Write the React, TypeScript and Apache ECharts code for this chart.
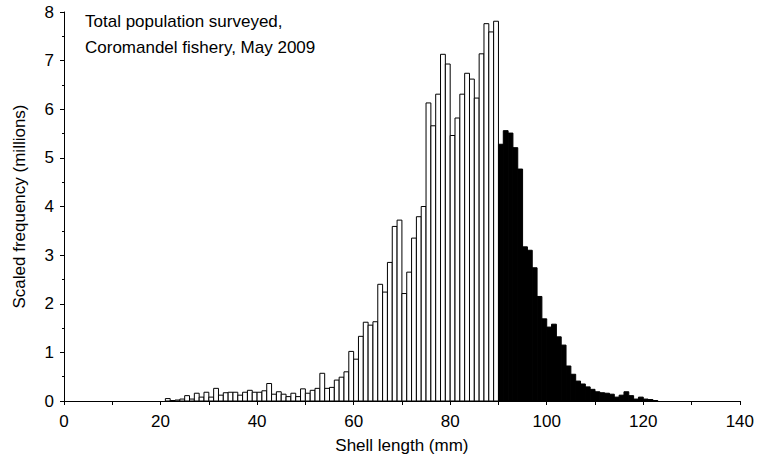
import React, { useEffect, useRef } from "react";
import * as echarts from "echarts";

// Shell length classes (mm); each bar spans [length, length + 1)
const openStart = 21; // white bars: 21..89 mm
const openFreq = [
  0.05, 0.01, 0.02, 0.04, 0.11, 0.04, 0.16, 0.08, 0.18, 0.08,
  0.26, 0.12, 0.17, 0.18, 0.18, 0.12, 0.18, 0.22, 0.18, 0.18,
  0.21, 0.36, 0.14, 0.19, 0.14, 0.09, 0.16, 0.09, 0.25, 0.16,
  0.22, 0.26, 0.57, 0.26, 0.28, 0.43, 0.49, 0.6, 1.02, 0.86,
  1.33, 1.62, 1.56, 1.63, 2.4, 2.24, 2.85, 3.59, 3.72, 2.21,
  2.65, 3.35, 3.79, 4.0, 6.13, 5.66, 6.31, 7.13, 6.93, 5.46,
  5.82, 6.31, 6.74, 6.62, 6.23, 7.14, 7.76, 7.59, 7.81,
];
const filledStart = 90; // black bars: 90..122 mm
const filledFreq = [
  5.28, 5.56, 5.51, 5.21, 4.77, 3.17, 3.1, 2.74, 2.15, 1.69,
  1.52, 1.58, 1.32, 1.15, 0.72, 0.55, 0.41, 0.35, 0.29, 0.24,
  0.19, 0.17, 0.16, 0.14, 0.08, 0.12, 0.19, 0.11, 0.04, 0.08,
  0.04, 0.03, 0.01,
];
const xTickLabels = ["0", "20", "40", "60", "80", "100", "120", "140"];
const yTickLabels = ["0", "1", "2", "3", "4", "5", "6", "7", "8"];
const titleLines = ["Total population surveyed,", "Coromandel fishery, May 2009"];
const xName = "Shell length (mm)";
const yName = "Scaled frequency (millions)";

const FONT = "'Liberation Sans', Arial, sans-serif";
const FS = 17;

function makeRender(fill: string) {
  return (_params: any, api: any) => {
    const x = api.value(0);
    const v = api.value(1);
    const p0 = api.coord([x, 0]);
    const p1 = api.coord([x + 1, v]);
    return {
      type: "rect",
      shape: { x: p0[0], y: p1[1], width: p1[0] - p0[0], height: p0[1] - p1[1] },
      style: { fill, stroke: "#000", lineWidth: 1 },
    };
  };
}

export default function App() {
  const ref = useRef<HTMLDivElement>(null);
  useEffect(() => {
    if (!ref.current) return;
    const chart = echarts.init(ref.current, null, { renderer: "svg" });
    const openData = openFreq.map((v, i) => [openStart + i, v]);
    const filledData = filledFreq.map((v, i) => [filledStart + i, v]);
    chart.setOption({
      animation: false,
      backgroundColor: "#fff",
      grid: { left: 64, right: 17, top: 12, bottom: 69, containLabel: false },
      xAxis: {
        type: "value",
        min: 0,
        max: 140,
        interval: 10,
        name: xName,
        nameLocation: "middle",
        nameGap: 36,
        nameTextStyle: { fontFamily: FONT, fontSize: FS, color: "#000" },
        axisLine: { show: true, lineStyle: { color: "#000", width: 1 } },
        axisTick: { show: true, length: 4, lineStyle: { color: "#000" } },
        splitLine: { show: false },
        axisLabel: {
          margin: 12,
          fontFamily: FONT,
          fontSize: FS,
          color: "#000",
          formatter: (v: number) => (v % 20 === 0 ? xTickLabels[v / 20] : ""),
        },
      },
      yAxis: {
        type: "value",
        min: 0,
        max: 8,
        interval: 1,
        name: yName,
        nameLocation: "middle",
        nameGap: 36,
        nameTextStyle: { fontFamily: FONT, fontSize: FS, color: "#000" },
        axisLine: { show: true, lineStyle: { color: "#000", width: 1 } },
        axisTick: { show: true, length: 4, lineStyle: { color: "#000" } },
        minorTick: { show: true, splitNumber: 2, length: 2, lineStyle: { color: "#000" } },
        splitLine: { show: false },
        minorSplitLine: { show: false },
        axisLabel: {
          margin: 10,
          fontFamily: FONT,
          fontSize: FS,
          color: "#000",
          formatter: (v: number) => yTickLabels[Math.round(v)] ?? "",
        },
      },
      graphic: [
        {
          type: "text",
          left: 85,
          top: 8,
          style: {
            text: titleLines.join("\n"),
            font: `${FS}px ${FONT}`,
            fill: "#000",
            lineHeight: 26,
          },
        },
      ],
      series: [
        {
          type: "custom",
          renderItem: makeRender("#fff"),
          data: openData,
          encode: { x: 0, y: 1 },
          clip: false,
        },
        {
          type: "custom",
          renderItem: makeRender("#000"),
          data: filledData,
          encode: { x: 0, y: 1 },
          clip: false,
        },
      ],
    });
    return () => chart.dispose();
  }, []);
  return (
    <div
      ref={ref}
      style={{ position: "fixed", left: 0, top: 0, width: 757, height: 470, background: "#fff" }}
    />
  );
}
